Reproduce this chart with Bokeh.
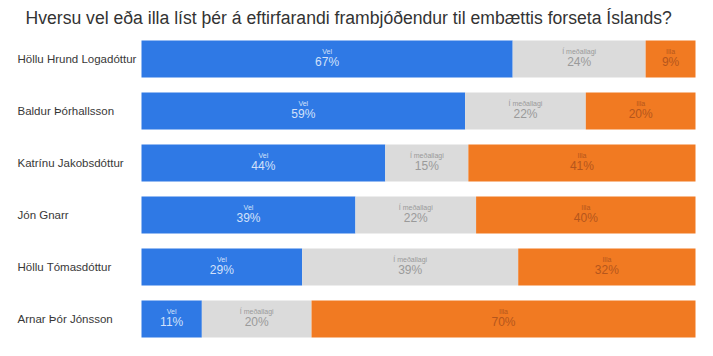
import numpy as np
from bokeh.plotting import figure
from bokeh.models import Range1d, ColumnDataSource
from bokeh.core.properties import value
from bokeh.embed import file_html
from bokeh.resources import INLINE

title = "Hversu vel eða illa líst þér á eftirfarandi frambjóðendur til embættis forseta Íslands?"
candidates = ["Höllu Hrund Logadóttur", "Baldur Þórhallsson", "Katrínu Jakobsdóttur",
              "Jón Gnarr", "Höllu Tómasdóttur", "Arnar Þór Jónsson"]
series_names = ["Vel", "Í meðallagi", "Illa"]
vel = [67, 59, 44, 39, 29, 11]
medal = [24, 22, 15, 22, 39, 20]
illa = [9, 20, 41, 40, 32, 70]

colors = ["#2f79e5", "#dbdbdb", "#f17a22"]
text_colors = ["#d3e1fa", "#9a9a9a", "#b5561c"]

FONT = "Liberation Sans"

W, H = 697, 340
# layout constants (pixels)
BAR_L, BAR_R = 141.0, 695.0
ROW0, ROW_STEP = 58.5, 52.0
ux = (BAR_R - BAR_L) / 100.0
x_start = -BAR_L / ux
x_end = 100 + (W - BAR_R) / ux
y_end = -ROW0 / ROW_STEP
y_start = (H - ROW0) / ROW_STEP

p = figure(width=W, height=H, output_backend="svg", toolbar_location=None,
           x_range=Range1d(x_start, x_end), y_range=Range1d(y_start, y_end),
           min_border_left=0, min_border_right=0, min_border_top=0, min_border_bottom=0)
p.outline_line_color = None
p.xgrid.visible = False
p.ygrid.visible = False
p.xaxis.visible = False
p.yaxis.visible = False
p.background_fill_color = "white"
p.border_fill_color = "white"

rows = np.arange(len(candidates))
vals = np.array([vel, medal, illa], dtype=float)
totals = vals.sum(axis=0)
norm = vals / totals * 100.0
left = np.zeros(len(candidates))
for i in range(3):
    right = left + norm[i]
    src = ColumnDataSource(dict(y=rows, left=left, right=right,
                                cx=(left + right) / 2,
                                lab=[series_names[i]] * len(rows),
                                pct=[f"{v}%" for v in vals[i].astype(int)]))
    p.hbar(y="y", left="left", right="right", height=37 / ROW_STEP, source=src,
           fill_color=colors[i], line_color=None)
    p.text(x="cx", y="y", text="lab", source=src, text_align="center",
           text_baseline="middle", text_font=value(FONT), text_font_size="7px",
           text_color=text_colors[i], y_offset=-8)
    p.text(x="cx", y="y", text="pct", source=src, text_align="center",
           text_baseline="middle", text_font=value(FONT), text_font_size="12px",
           text_color=text_colors[i], y_offset=3)
    left = right

# candidate names, left aligned at x = 17px
name_x = x_start + 17 / ux
nsrc = ColumnDataSource(dict(y=rows, name=candidates, x=[name_x] * len(rows)))
p.text(x="x", y="y", text="name", source=nsrc, text_align="left",
       text_baseline="middle", text_font=value(FONT), text_font_size="11.5px",
       text_color="#383838")

# title
tsrc = ColumnDataSource(dict(x=[x_start + 25 / ux], y=[y_end + 17 / ROW_STEP], t=[title]))
p.text(x="x", y="y", text="t", source=tsrc, text_align="left", text_baseline="middle",
       text_font=value(FONT), text_font_size="17.6px", text_color="#333333")

open("out.html", "w").write(file_html(p, INLINE))
